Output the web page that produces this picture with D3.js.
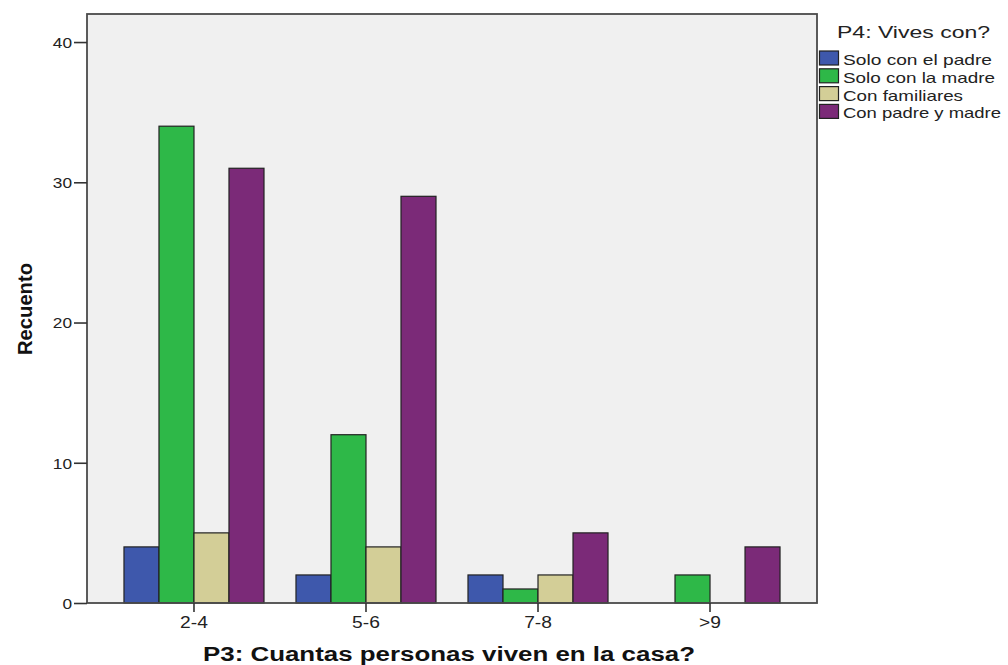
<!DOCTYPE html>
<html><head><meta charset="utf-8">
<script src="https://cdn.jsdelivr.net/npm/d3@7"></script>
<style>body{margin:0;background:#fff}svg{display:block}</style>
</head><body>
<script>
const categories = ["2-4", "5-6", "7-8", ">9"];
const seriesNames = ["Solo con el padre", "Solo con la madre", "Con familiares", "Con padre y madre"];
const soloPadre = [4, 2, 2, 0];
const soloMadre = [34, 12, 1, 2];
const familiares = [5, 4, 2, 0];
const padreMadre = [31, 29, 5, 4];
const yTicks = [0, 10, 20, 30, 40];
const colors = ["#3e58ac", "#2eb848", "#d3ce97", "#7b2a78"];

const series = [soloPadre, soloMadre, familiares, padreMadre];
const W = 1008, H = 665;
const pL = 87, pR = 817, pT = 14, pB = 603;
const FONT = "Liberation Sans, Arial, sans-serif";

const svg = d3.select("body").append("svg").attr("width", W).attr("height", H);

// stretch text horizontally like the reference
function stretch(sel, k) {
  sel.each(function () {
    const w = this.getComputedTextLength();
    d3.select(this).attr("textLength", w * k).attr("lengthAdjust", "spacingAndGlyphs");
  });
}

svg.append("rect").attr("x", pL).attr("y", pT).attr("width", pR - pL).attr("height", pB - pT)
  .attr("fill", "#f0f0f0");

const x = d3.scaleBand().domain(categories).range([pL, pR]).paddingInner(0.186).paddingOuter(0.215);
const xs = d3.scaleBand().domain(d3.range(seriesNames.length)).range([0, x.bandwidth()]);
const y = d3.scaleLinear().domain([0, 42]).range([pB, pT]);

categories.forEach((c, i) => {
  series.forEach((s, j) => {
    const v = s[i];
    if (v <= 0) return;
    svg.append("rect")
      .attr("x", x(c) + xs(j)).attr("y", y(v))
      .attr("width", xs.bandwidth()).attr("height", y(0) - y(v))
      .attr("fill", colors[j]).attr("stroke", "#222").attr("stroke-width", 1.2);
  });
});

// frame
svg.append("rect").attr("x", pL).attr("y", pT).attr("width", pR - pL).attr("height", pB - pT)
  .attr("fill", "none").attr("stroke", "#4a4a4a").attr("stroke-width", 1.8);

const yAxis = svg.append("g").attr("transform", `translate(${pL},0)`)
  .call(d3.axisLeft(y).tickValues(yTicks).tickSize(13).tickPadding(2));
yAxis.select(".domain").remove();
yAxis.selectAll("line").attr("stroke", "#333").attr("stroke-width", 1.6);
yAxis.selectAll("text").attr("font-family", FONT).attr("font-size", 15).attr("fill", "#222").attr("dy", "0.36em");
stretch(yAxis.selectAll("text"), 1.15);

const xAxis = svg.append("g").attr("transform", `translate(0,${pB})`)
  .call(d3.axisBottom(x).tickSize(9).tickPadding(5));
xAxis.select(".domain").remove();
xAxis.selectAll("line").attr("stroke", "#333").attr("stroke-width", 1.6);
xAxis.selectAll("text").attr("font-family", FONT).attr("font-size", 16).attr("fill", "#222");
stretch(xAxis.selectAll("text"), 1.2);

svg.append("text").attr("x", 449).attr("y", 661).attr("text-anchor", "middle")
  .attr("font-family", FONT).attr("font-weight", "bold").attr("font-size", 20)
  .attr("fill", "#111").attr("textLength", 492).attr("lengthAdjust", "spacingAndGlyphs")
  .text("P3: Cuantas personas viven en la casa?");

svg.append("text").attr("transform", "translate(32,309) rotate(-90)").attr("text-anchor", "middle")
  .attr("font-family", FONT).attr("font-weight", "bold").attr("font-size", 20)
  .attr("fill", "#111").attr("textLength", 92).attr("lengthAdjust", "spacingAndGlyphs")
  .text("Recuento");

// legend
const lg = svg.append("g");
lg.append("text").attr("x", 837).attr("y", 38)
  .attr("font-family", FONT).attr("font-size", 16).attr("fill", "#222")
  .attr("textLength", 153).attr("lengthAdjust", "spacingAndGlyphs")
  .text("P4: Vives con?");
const legendWidths = [149, 152, 120, 158];
seriesNames.forEach((n, j) => {
  const yy = 51 + j * 17.8;
  lg.append("rect").attr("x", 819.5).attr("y", yy).attr("width", 19).attr("height", 14)
    .attr("fill", colors[j]).attr("stroke", "#222").attr("stroke-width", 1.2);
  lg.append("text").attr("x", 843).attr("y", yy + 14)
    .attr("font-family", FONT).attr("font-size", 15).attr("fill", "#222")
    .attr("textLength", legendWidths[j]).attr("lengthAdjust", "spacingAndGlyphs")
    .text(n);
});
</script>
</body></html>
